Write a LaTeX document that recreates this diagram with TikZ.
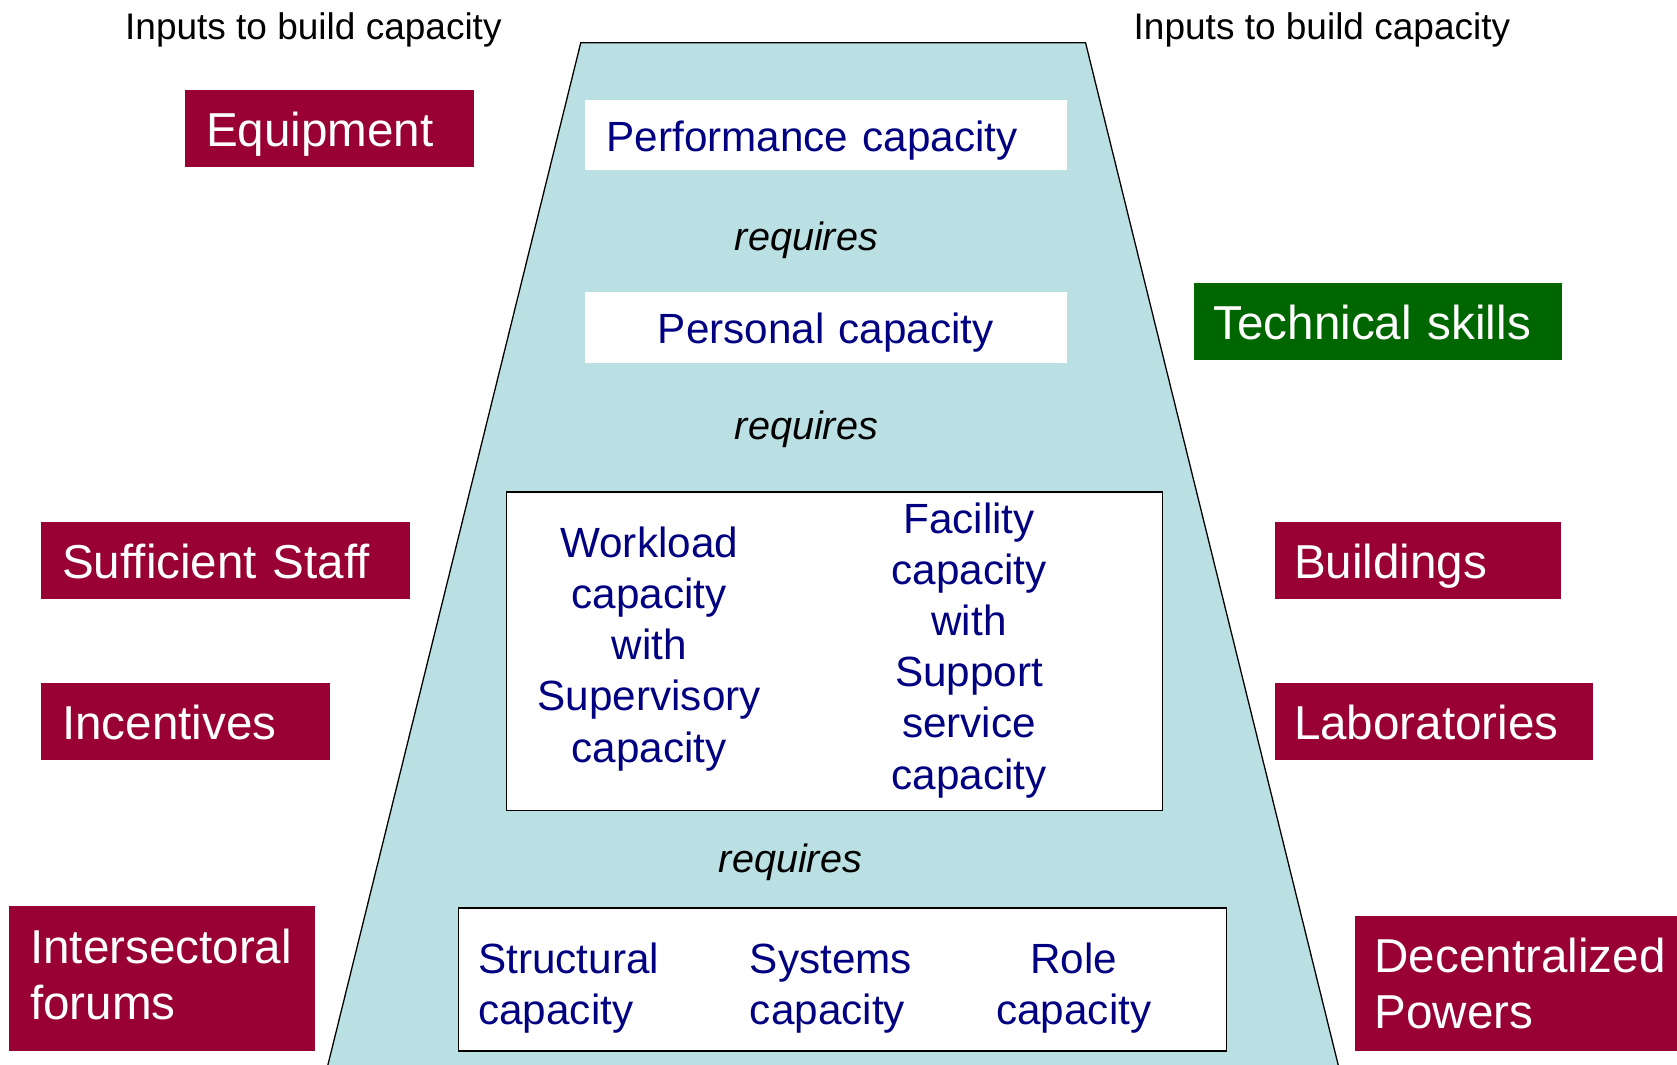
\documentclass[tikz,border=0pt]{standalone}
\usepackage{fontspec}
\setmainfont{Liberation Sans}
\definecolor{boxred}{HTML}{990033}
\definecolor{boxgreen}{HTML}{006600}
\definecolor{navytxt}{HTML}{000080}
\definecolor{funnel}{HTML}{BBE0E3}
\begin{document}
\begin{tikzpicture}[x=1pt,y=-1pt,
  inputbox/.style={anchor=north west, inner ysep=0pt, inner xsep=19.5pt, minimum height=72pt, text=white, align=left, font=\fontsize{44.5}{52.5}\selectfont},
  oneline/.style={text height=34pt, text depth=0pt},
  redbox/.style={inputbox, fill=boxred},
  greenbox/.style={inputbox, fill=boxgreen},
  capbox/.style={anchor=north west, fill=white, inner ysep=0pt, inner xsep=20pt, minimum height=66pt, text height=30pt, text depth=0pt, text width=410pt, text=navytxt, font=\fontsize{39.5}{48}\selectfont},
  framebox/.style={anchor=north west, draw=black, line width=1.5pt, fill=white, inner sep=0pt},
  captext/.style={text=navytxt, inner sep=0pt, font=\fontsize{39.5}{47.8}\selectfont},
  reqtext/.style={anchor=base, inner sep=0pt, font=\fontsize{37}{44}\selectfont\itshape},
  headtext/.style={anchor=base, inner sep=0pt, font=\fontsize{34.6}{40}\selectfont}]
\useasboundingbox (0,0) rectangle (1568,995);
% funnel
\path[fill=funnel, draw=black, line width=1.2pt, line join=miter] (543,40) -- (1015,40) -- (1253.5,1005) -- (304.3,1005) -- cycle;
% headers
\node[headtext] (hl) at (293,37) {Inputs to build capacity};
\node[headtext] (hr) at (1236,37) {Inputs to build capacity};
% capacity boxes
\node[capbox, align=left] (perf) at (547,93) {Performance capacity};
\node[reqtext] (req1) at (754,234) {requires};
\node[capbox, align=center] (pers) at (547,273) {Personal capacity};
\node[reqtext] (req2) at (754,410.5) {requires};
\node[framebox, minimum width=613pt, minimum height=298pt] (mid) at (473,459) {};
\node[captext, align=center] (wl) at (607,606.7) {Workload\\capacity\\with\\Supervisory\\capacity};
\node[captext, align=center] (fac) at (906,608) {Facility\\capacity\\with\\Support\\service\\capacity};
\node[reqtext] (req3) at (739,815.6) {requires};
\node[framebox, minimum width=718pt, minimum height=134pt] (bot) at (428,848) {};
\node[captext, align=left, anchor=west] (struct) at (447,924) {Structural\\capacity};
\node[captext, align=left, anchor=west] (sys) at (701,924) {Systems\\capacity};
\node[captext, align=center] (role) at (1004,924) {Role\\capacity};
% inputs
\node[redbox, oneline, text width=231pt] (equip) at (173,84) {Equipment};
\node[redbox, oneline, text width=305.5pt] (staff) at (38.5,488) {Sufficient Staff};
\node[redbox, oneline, text width=231pt] (incent) at (38.5,638.5) {Incentives};
\node[redbox, minimum height=135.5pt, text width=247pt] (forums) at (8.5,847) {Intersectoral\\forums\rule[-8pt]{0pt}{8pt}};
\node[greenbox, oneline, text width=307.5pt, inner xsep=18pt] (tech) at (1116.5,264) {Technical skills};
\node[redbox, oneline, text width=232pt, inner xsep=18pt] (build) at (1191.7,488) {Buildings};
\node[redbox, oneline, text width=262pt, inner xsep=18pt] (labs) at (1191.7,638.5) {Laboratories};
\node[redbox, minimum height=126pt, text width=290pt, inner xsep=18pt] (decent) at (1267,856.5) {Decentralized\\Powers};
\end{tikzpicture}
\end{document}
